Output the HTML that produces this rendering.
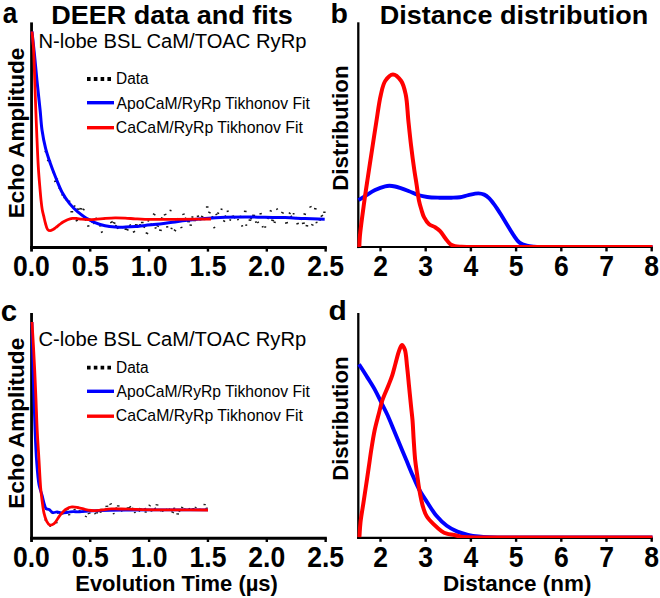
<!DOCTYPE html>
<html><head><meta charset="utf-8"><style>
html,body{margin:0;padding:0;background:#fff;width:660px;height:598px;overflow:hidden}
svg{display:block}
text{font-family:"Liberation Sans",sans-serif;fill:#000}
.pl{font-weight:bold;font-size:30px}
.ti{font-weight:bold;font-size:26.7px}
.st{font-size:20px}
.lg{font-size:15.5px}
.yl{font-weight:bold;font-size:22.3px}
.yl2{font-weight:bold;font-size:22px}
.xl{font-weight:bold;font-size:21.8px}
.xl2{font-weight:bold;font-size:22.3px}
.tk{font-weight:bold;font-size:29px}
</style></head><body>
<svg width="660" height="598" viewBox="0 0 660 598">
<rect width="660" height="598" fill="#fff"/>
<defs><clipPath id="cb"><rect x="355" y="0" width="305" height="247.1"/></clipPath><clipPath id="cd"><rect x="355" y="290" width="305" height="248.0"/></clipPath></defs>
<text font-size="29.50" font-weight="bold" textLength="14.60" lengthAdjust="spacingAndGlyphs" x="2.65" y="23.10">a</text>
<text font-size="28.50" font-weight="bold" x="330.45" y="22.60">b</text>
<text font-size="29.50" font-weight="bold" x="0.80" y="320.80">c</text>
<text font-size="28.50" font-weight="bold" textLength="18.30" lengthAdjust="spacingAndGlyphs" x="328.60" y="320.10">d</text>
<text font-size="26.70" font-weight="bold" textLength="241.47" lengthAdjust="spacingAndGlyphs" x="51.30" y="23.70">DEER data and fits</text>
<text font-size="26.70" font-weight="bold" textLength="268.49" lengthAdjust="spacingAndGlyphs" x="379.87" y="23.80">Distance distribution</text>
<text font-size="20.00" textLength="268.08" lengthAdjust="spacingAndGlyphs" x="38.40" y="47.90">N-lobe BSL CaM/TOAC RyRp</text>
<text font-size="20.00" textLength="267.66" lengthAdjust="spacingAndGlyphs" x="38.55" y="345.50">C-lobe BSL CaM/TOAC RyRp</text>
<text font-size="15.60" textLength="32.63" lengthAdjust="spacingAndGlyphs" x="116.04" y="83.70">Data</text>
<text font-size="15.70" textLength="193.32" lengthAdjust="spacingAndGlyphs" x="116.51" y="108.50">ApoCaM/RyRp Tikhonov Fit</text>
<text font-size="15.70" textLength="187.16" lengthAdjust="spacingAndGlyphs" x="115.72" y="132.50">CaCaM/RyRp Tikhonov Fit</text>
<text font-size="15.60" textLength="32.63" lengthAdjust="spacingAndGlyphs" x="116.04" y="372.50">Data</text>
<text font-size="15.70" textLength="193.32" lengthAdjust="spacingAndGlyphs" x="116.51" y="397.30">ApoCaM/RyRp Tikhonov Fit</text>
<text font-size="15.70" textLength="187.16" lengthAdjust="spacingAndGlyphs" x="115.72" y="421.30">CaCaM/RyRp Tikhonov Fit</text>
<text font-size="22.20" font-weight="bold" textLength="170.50" lengthAdjust="spacingAndGlyphs" transform="translate(24.00 218.16) rotate(-90)">Echo Amplitude</text>
<text font-size="22.20" font-weight="bold" textLength="170.87" lengthAdjust="spacingAndGlyphs" transform="translate(24.00 508.67) rotate(-90)">Echo Amplitude</text>
<text font-size="21.90" font-weight="bold" textLength="125.44" lengthAdjust="spacingAndGlyphs" transform="translate(348.30 190.84) rotate(-90)">Distribution</text>
<text font-size="21.90" font-weight="bold" textLength="124.41" lengthAdjust="spacingAndGlyphs" transform="translate(348.30 480.82) rotate(-90)">Distribution</text>
<text font-size="21.80" font-weight="bold" textLength="202.67" lengthAdjust="spacingAndGlyphs" x="75.25" y="591.45">Evolution Time (µs)</text>
<text font-size="22.10" font-weight="bold" textLength="148.49" lengthAdjust="spacingAndGlyphs" x="442.91" y="591.05">Distance (nm)</text>
<!-- legends -->
<g>
<line x1="87" y1="79" x2="111.5" y2="79" stroke="#000" stroke-width="3.8" stroke-dasharray="3.6 3.2"/>
<line x1="87" y1="102.7" x2="114" y2="102.7" stroke="#00f" stroke-width="3.4"/>
<line x1="87" y1="127.7" x2="114" y2="127.7" stroke="#f00" stroke-width="3.4"/>
</g>
<g>
<line x1="87" y1="367.6" x2="111.5" y2="367.6" stroke="#000" stroke-width="3.8" stroke-dasharray="3.6 3.2"/>
<line x1="87" y1="391.3" x2="114" y2="391.3" stroke="#00f" stroke-width="3.4"/>
<line x1="87" y1="416.2" x2="114" y2="416.2" stroke="#f00" stroke-width="3.4"/>
</g>
<!-- panel a -->
<line x1="31.55" y1="22.4" x2="31.55" y2="251.6" stroke="#000" stroke-width="2.8"/>
<line x1="30.1" y1="247.5" x2="326.8" y2="247.5" stroke="#000" stroke-width="3"/>
<line x1="90.25" y1="247.00" x2="90.25" y2="251.60" stroke="#000" stroke-width="2.4"/><line x1="149.10" y1="247.00" x2="149.10" y2="251.60" stroke="#000" stroke-width="2.4"/><line x1="207.95" y1="247.00" x2="207.95" y2="251.60" stroke="#000" stroke-width="2.4"/><line x1="266.80" y1="247.00" x2="266.80" y2="251.60" stroke="#000" stroke-width="2.4"/><line x1="325.65" y1="247.00" x2="325.65" y2="251.60" stroke="#000" stroke-width="2.4"/>
<text transform="translate(31.40 276.20) scale(0.915 1)" class="tk" text-anchor="middle">0.0</text><text transform="translate(90.25 276.20) scale(0.915 1)" class="tk" text-anchor="middle">0.5</text><text transform="translate(149.10 276.20) scale(0.915 1)" class="tk" text-anchor="middle">1.0</text><text transform="translate(207.95 276.20) scale(0.915 1)" class="tk" text-anchor="middle">1.5</text><text transform="translate(266.80 276.20) scale(0.915 1)" class="tk" text-anchor="middle">2.0</text><text transform="translate(325.65 276.20) scale(0.915 1)" class="tk" text-anchor="middle">2.5</text>
<path d="M44.7 152.0 L46.8 150.8 M47.1 160.8 L49.2 159.6 M48.9 161.7 L51.0 160.6 M52.6 172.8 L54.5 171.9 M54.1 181.4 L57.0 181.0 M56.0 178.6 L57.9 179.5 M58.5 187.9 L60.4 188.7 M61.4 194.7 L63.6 195.1 M63.5 197.9 L66.0 197.0 M65.7 200.3 L68.1 199.7 M68.3 201.0 L70.3 201.5 M70.4 211.7 L73.2 211.8 M73.4 206.6 L75.4 205.6 M75.7 221.0 L77.9 220.0 M76.5 208.9 L79.4 209.2 M79.5 208.5 L82.0 209.0 M82.5 208.8 L84.5 210.0 M84.8 220.4 L87.1 219.1 M87.2 226.3 L89.4 225.7 M89.7 220.8 L91.6 219.5 M91.3 221.9 L93.1 222.5 M93.2 223.5 L96.1 223.1 M95.5 218.0 L98.0 219.2 M99.2 226.1 L101.4 225.5 M100.9 232.5 L102.8 231.6 M102.8 219.3 L105.1 218.5 M105.8 226.1 L108.0 225.9 M108.1 226.0 L110.3 227.4 M110.2 222.9 L112.7 221.5 M113.0 222.3 L115.4 223.5 M115.0 225.4 L116.8 225.7 M116.8 228.6 L118.7 227.9 M119.6 227.6 L121.4 226.8 M121.7 227.9 L124.1 226.4 M124.5 229.2 L126.7 228.8 M125.8 229.0 L128.5 230.2 M129.1 225.6 L131.0 224.6 M131.1 226.6 L133.0 227.3 M132.9 232.2 L135.1 231.2 M134.9 224.8 L137.8 224.9 M139.0 225.0 L141.0 224.7 M140.9 222.5 L143.6 222.6 M142.7 226.1 L145.0 227.7 M145.7 232.7 L148.2 233.7 M147.6 221.4 L149.1 220.4 M149.5 224.8 L152.0 224.0 M153.0 213.6 L155.4 215.2 M154.6 228.3 L156.6 227.6 M156.4 225.4 L158.9 226.7 M159.1 229.9 L161.8 230.4 M160.9 217.8 L163.4 218.7 M163.8 215.1 L166.4 214.1 M166.1 227.1 L168.3 226.8 M169.6 210.2 L171.5 210.7 M170.6 228.1 L172.5 228.8 M173.9 229.7 L176.1 231.1 M175.3 220.1 L177.8 218.5 M177.9 220.6 L180.9 220.7 M180.4 227.9 L182.4 227.1 M182.3 214.6 L184.7 213.9 M184.8 217.8 L186.8 218.8 M187.0 221.4 L189.9 221.7 M189.5 225.1 L191.9 225.2 M191.4 217.0 L193.4 216.9 M193.4 220.6 L196.1 220.5 M196.8 216.6 L199.1 216.1 M199.2 219.5 L201.3 219.7 M201.0 216.1 L203.3 216.9 M203.7 219.4 L206.2 219.2 M205.9 206.9 L208.5 206.9 M208.3 211.8 L210.6 213.1 M211.6 216.3 L213.4 217.4 M213.4 228.0 L215.2 227.1 M215.5 214.8 L217.4 213.8 M217.3 212.7 L219.1 213.6 M220.6 209.0 L222.5 209.4 M223.2 220.5 L225.1 221.7 M224.7 215.7 L227.0 217.3 M226.7 211.4 L228.7 211.0 M229.4 219.7 L231.1 220.2 M231.7 216.4 L234.2 215.9 M234.0 218.2 L236.5 216.7 M237.1 219.9 L238.9 219.4 M239.4 216.8 L241.3 216.3 M241.2 226.2 L243.1 225.6 M243.9 211.2 L246.6 211.4 M245.3 225.2 L247.2 225.0 M248.6 219.9 L251.3 220.3 M249.9 217.9 L252.0 218.8 M252.2 215.3 L255.1 215.5 M255.0 222.4 L256.8 221.8 M257.2 222.9 L258.9 221.9 M259.5 214.1 L261.8 213.5 M261.8 226.9 L263.6 226.6 M264.2 226.9 L266.2 227.1 M267.1 217.8 L268.7 218.8 M269.7 210.5 L271.8 211.4 M271.2 220.0 L274.1 220.7 M273.6 222.0 L275.8 222.4 M276.2 209.6 L277.9 208.6 M278.1 217.6 L279.8 216.9 M281.3 212.2 L283.7 213.4 M282.9 217.9 L284.9 217.8 M285.1 223.3 L288.0 222.5 M288.8 212.7 L290.6 213.9 M290.1 217.2 L292.0 215.9 M292.7 213.8 L294.5 213.8 M294.6 218.6 L296.6 217.5 M296.4 224.0 L298.8 223.2 M299.4 218.8 L301.9 219.5 M301.9 223.5 L304.8 222.9 M303.5 213.8 L306.0 214.5 M305.6 225.5 L308.2 225.9 M309.4 207.4 L311.6 206.4 M311.2 224.4 L313.5 225.4 M314.0 208.4 L316.6 208.9 M315.6 222.7 L317.5 222.3 M318.6 219.7 L321.1 219.9 M320.7 216.7 L323.0 215.1 M323.2 212.2 L325.6 212.2 " stroke="#1a1a1a" stroke-width="1.5" fill="none"/>
<path d="M32.00 31.50 C32.83 39.33 33.69 47.04 34.50 55.00 C35.33 63.20 36.02 71.29 36.90 80.00 C37.87 89.55 39.19 101.01 40.10 110.00 C40.84 117.34 41.06 123.49 42.00 130.00 C42.91 136.28 44.14 142.65 45.60 148.40 C46.92 153.61 48.51 158.23 50.20 163.10 C51.91 168.03 53.81 172.92 55.80 177.80 C57.81 182.72 59.77 188.04 62.20 192.50 C64.42 196.57 66.90 200.28 69.60 203.60 C72.13 206.70 75.04 209.51 77.80 211.90 C80.25 214.03 82.96 215.94 85.20 217.40 C86.93 218.53 88.37 219.24 90.00 220.10 C91.64 220.97 93.01 221.79 95.00 222.60 C97.75 223.71 101.71 225.05 105.10 225.80 C108.41 226.53 111.76 226.88 115.10 227.10 C118.43 227.32 121.76 227.18 125.10 227.10 C128.46 227.02 131.86 226.89 135.20 226.60 C138.50 226.32 141.38 225.79 145.00 225.40 C149.47 224.92 155.00 224.58 160.00 224.00 C165.03 223.42 170.07 222.55 175.10 221.90 C180.11 221.25 185.11 220.65 190.10 220.10 C195.07 219.55 199.66 219.04 205.00 218.60 C211.20 218.09 218.41 217.58 225.10 217.30 C231.75 217.02 238.36 216.90 245.00 216.90 C251.66 216.90 258.32 217.18 265.00 217.30 C271.69 217.42 278.41 217.38 285.10 217.60 C291.78 217.82 298.47 218.32 305.10 218.60 C311.67 218.88 318.17 219.07 324.70 219.30" stroke="#00f" stroke-width="3" fill="none" stroke-linejoin="round"/>
<path d="M32.00 31.50 C32.53 37.67 33.17 43.09 33.60 50.00 C34.14 58.79 34.33 70.00 34.70 80.00 C35.07 90.00 35.46 101.01 35.80 110.00 C36.08 117.34 36.27 122.33 36.60 130.00 C37.05 140.41 37.63 155.95 38.30 166.80 C38.83 175.43 39.59 183.89 40.10 190.00 C40.44 193.99 40.64 196.59 41.00 199.90 C41.37 203.25 41.76 207.03 42.30 210.00 C42.73 212.39 43.28 214.21 43.80 216.40 C44.35 218.71 44.85 221.27 45.50 223.50 C46.10 225.55 46.47 228.11 47.50 229.30 C48.22 230.14 49.28 230.67 50.20 230.70 C51.12 230.73 52.09 230.01 53.00 229.50 C53.96 228.96 54.81 228.24 55.80 227.50 C56.96 226.63 58.27 225.53 59.50 224.60 C60.70 223.70 61.81 222.80 63.10 222.00 C64.46 221.16 65.97 220.30 67.50 219.70 C69.03 219.10 70.74 218.59 72.30 218.40 C73.73 218.23 75.04 218.38 76.50 218.50 C78.10 218.63 79.72 219.02 81.50 219.20 C83.52 219.40 85.79 219.56 88.00 219.60 C90.29 219.64 92.46 219.56 95.00 219.40 C98.06 219.20 101.74 218.67 105.10 218.40 C108.44 218.13 111.77 217.85 115.10 217.80 C118.43 217.75 121.76 217.93 125.10 218.10 C128.46 218.27 131.86 218.60 135.20 218.80 C138.49 219.00 140.84 219.19 145.00 219.30 C152.27 219.49 164.54 219.34 175.00 219.30 C186.45 219.25 199.00 219.10 211.00 219.00" stroke="#f00" stroke-width="2.8" fill="none" stroke-linejoin="round"/>
<!-- panel c -->
<line x1="31.55" y1="313" x2="31.55" y2="542" stroke="#000" stroke-width="2.8"/>
<line x1="30.1" y1="538.2" x2="326.8" y2="538.2" stroke="#000" stroke-width="3"/>
<line x1="90.25" y1="537.70" x2="90.25" y2="542.00" stroke="#000" stroke-width="2.4"/><line x1="149.10" y1="537.70" x2="149.10" y2="542.00" stroke="#000" stroke-width="2.4"/><line x1="207.95" y1="537.70" x2="207.95" y2="542.00" stroke="#000" stroke-width="2.4"/><line x1="266.80" y1="537.70" x2="266.80" y2="542.00" stroke="#000" stroke-width="2.4"/><line x1="325.65" y1="537.70" x2="325.65" y2="542.00" stroke="#000" stroke-width="2.4"/>
<text transform="translate(31.40 567.00) scale(0.915 1)" class="tk" text-anchor="middle">0.0</text><text transform="translate(90.25 567.00) scale(0.915 1)" class="tk" text-anchor="middle">0.5</text><text transform="translate(149.10 567.00) scale(0.915 1)" class="tk" text-anchor="middle">1.0</text><text transform="translate(207.95 567.00) scale(0.915 1)" class="tk" text-anchor="middle">1.5</text><text transform="translate(266.80 567.00) scale(0.915 1)" class="tk" text-anchor="middle">2.0</text><text transform="translate(325.65 567.00) scale(0.915 1)" class="tk" text-anchor="middle">2.5</text>
<path d="M44.4 520.2 L46.2 519.7 M49.2 525.8 L51.1 526.3 M55.2 522.8 L57.6 522.5 M60.6 512.6 L63.1 513.4 M66.0 510.1 L68.6 509.3 M71.4 507.4 L73.2 507.5 M76.1 506.9 L78.7 507.5 M82.1 511.8 L84.5 511.9 M87.7 513.8 L90.5 512.8 M94.4 514.1 L96.3 512.8 M99.7 512.5 L101.7 511.9 M105.2 509.4 L107.6 508.6 M109.4 504.7 L111.9 503.5 M115.6 507.7 L117.9 508.8 M121.1 511.4 L122.6 510.5 M126.7 507.9 L128.8 507.8 M131.9 508.0 L133.5 508.7 M138.3 510.5 L140.1 511.3 M143.9 508.9 L146.1 508.3 M148.6 504.8 L150.7 506.2 M154.3 508.9 L155.9 507.9 M160.0 510.9 L162.8 510.2 M164.9 510.0 L167.0 509.2 M171.4 511.6 L173.9 512.9 M176.3 513.9 L179.0 514.0 M181.1 507.1 L183.3 507.8 M187.6 509.7 L190.1 508.2 M192.3 508.7 L194.5 508.6 M197.9 510.0 L200.4 509.2 M203.5 504.5 L205.8 504.6 M45.4 508.9 L47.5 510.0 M50.7 512.3 L53.4 513.7 M57.0 513.5 L58.9 512.4 M61.9 514.1 L63.9 513.4 M68.0 514.8 L70.3 514.6 M73.5 509.7 L75.7 509.4 M78.3 511.4 L80.5 510.4 M84.9 516.0 L86.8 516.9 M89.3 511.2 L92.2 511.0 M96.4 512.3 L98.0 513.1 M100.2 509.4 L102.7 509.4 M105.4 506.5 L108.3 506.1 M112.8 513.9 L114.6 513.3 M116.9 505.9 L119.5 506.0 M123.8 509.2 L126.1 509.9 M128.7 507.9 L131.0 506.4 M133.9 512.7 L135.8 512.3 M139.1 508.3 L141.7 508.8 M144.6 512.0 L146.8 512.2 M150.5 510.8 L152.3 511.0 M155.6 504.7 L158.4 505.2 M161.8 511.4 L163.8 510.7 M168.1 510.0 L170.1 508.7 M173.1 508.3 L175.2 508.1 M178.7 511.7 L180.6 510.5 M183.8 508.9 L185.8 509.4 M189.5 510.2 L192.3 509.1 M194.7 507.0 L196.6 507.8 M200.0 509.3 L202.1 510.5 M205.4 508.5 L207.6 507.8 " stroke="#222" stroke-width="1.3" fill="none"/>
<path d="M32.00 322.00 C32.17 329.67 32.34 337.17 32.50 345.00 C32.67 353.16 32.77 361.29 33.00 370.00 C33.25 379.55 33.67 390.00 34.00 400.00 C34.33 410.00 34.58 420.00 35.00 430.00 C35.42 440.00 35.79 450.46 36.50 460.00 C37.15 468.72 37.73 478.59 39.00 485.00 C39.82 489.13 41.06 491.66 42.00 495.00 C42.93 498.32 43.77 502.52 44.60 505.00 C45.11 506.52 45.28 507.84 46.10 508.60 C46.84 509.29 48.07 509.06 49.10 509.60 C50.39 510.28 51.69 512.26 53.10 512.60 C54.37 512.90 55.77 511.85 57.10 511.90 C58.44 511.95 59.57 512.78 61.10 512.90 C63.10 513.06 65.97 512.54 68.10 512.30 C69.91 512.10 71.42 511.67 73.10 511.60 C74.79 511.53 76.43 511.94 78.20 511.90 C80.12 511.86 82.43 511.41 84.20 511.30 C85.61 511.21 86.38 511.27 88.00 511.20 C90.88 511.08 95.10 510.68 100.00 510.50 C107.75 510.21 119.28 510.12 130.00 510.00 C142.38 509.87 156.84 509.83 170.00 509.80 C182.83 509.77 195.33 509.80 208.00 509.80" stroke="#00f" stroke-width="2.8" fill="none" stroke-linejoin="round"/>
<path d="M32.00 322.00 C32.47 329.67 32.96 337.17 33.40 345.00 C33.86 353.16 34.28 361.29 34.70 370.00 C35.15 379.54 35.58 390.00 36.00 400.00 C36.42 410.00 36.70 420.00 37.20 430.00 C37.70 440.00 38.42 450.26 39.00 460.00 C39.55 469.24 39.99 479.63 40.60 487.00 C41.03 492.12 41.44 495.66 42.00 500.00 C42.57 504.36 43.10 509.30 44.00 513.10 C44.72 516.13 45.48 519.00 46.60 521.10 C47.45 522.69 48.34 524.49 49.60 524.90 C50.84 525.30 52.66 524.62 54.10 523.60 C56.24 522.08 57.99 517.61 60.10 515.10 C62.01 512.83 63.94 510.48 66.10 509.10 C67.98 507.90 70.06 507.14 72.10 506.90 C74.10 506.66 76.19 507.23 78.20 507.60 C80.22 507.97 82.43 508.65 84.20 509.10 C85.61 509.46 86.50 509.86 88.00 510.10 C90.09 510.44 92.61 510.66 95.60 510.60 C99.94 510.51 106.19 509.13 111.50 508.90 C116.79 508.67 121.37 509.08 127.40 509.20 C135.34 509.36 144.31 509.66 155.00 509.80 C169.81 509.99 190.33 509.93 208.00 510.00" stroke="#f00" stroke-width="2.8" fill="none" stroke-linejoin="round"/>
<!-- panel b -->
<line x1="358.3" y1="22.3" x2="358.3" y2="248.1" stroke="#000" stroke-width="2.3"/>
<line x1="357.2" y1="247.0" x2="652.6" y2="247.0" stroke="#000" stroke-width="2.2"/>
<line x1="380.50" y1="247.00" x2="380.50" y2="251.40" stroke="#000" stroke-width="2.4"/><line x1="425.70" y1="247.00" x2="425.70" y2="251.40" stroke="#000" stroke-width="2.4"/><line x1="470.90" y1="247.00" x2="470.90" y2="251.40" stroke="#000" stroke-width="2.4"/><line x1="516.10" y1="247.00" x2="516.10" y2="251.40" stroke="#000" stroke-width="2.4"/><line x1="561.30" y1="247.00" x2="561.30" y2="251.40" stroke="#000" stroke-width="2.4"/><line x1="606.50" y1="247.00" x2="606.50" y2="251.40" stroke="#000" stroke-width="2.4"/><line x1="651.70" y1="247.00" x2="651.70" y2="251.40" stroke="#000" stroke-width="2.4"/>
<path clip-path="url(#cb)" d="M358.50 200.10 C360.67 198.77 362.59 197.57 365.00 196.10 C367.99 194.27 371.66 191.66 375.10 190.00 C378.37 188.43 382.41 186.94 385.10 186.30 C386.83 185.89 387.95 185.79 389.50 185.80 C391.25 185.81 393.31 186.13 395.10 186.50 C396.80 186.85 398.13 187.29 400.00 187.90 C402.58 188.74 406.08 190.02 409.10 191.20 C412.15 192.39 415.12 194.03 418.20 195.00 C421.19 195.94 424.03 196.55 427.30 197.00 C431.03 197.51 435.36 197.58 439.40 197.70 C443.43 197.82 447.82 197.81 451.50 197.70 C454.58 197.61 457.19 197.63 460.00 197.20 C462.83 196.77 465.47 195.72 468.40 195.10 C471.58 194.43 475.52 193.35 478.40 193.40 C480.60 193.44 482.41 193.80 484.20 194.60 C486.05 195.43 487.77 196.94 489.30 198.40 C490.84 199.87 492.05 201.64 493.40 203.40 C494.82 205.26 496.23 207.25 497.60 209.30 C499.03 211.44 500.37 213.68 501.80 216.00 C503.33 218.49 504.78 220.99 506.50 223.80 C508.53 227.11 510.91 231.33 513.20 234.60 C515.25 237.53 517.05 240.73 519.50 242.60 C521.66 244.25 524.33 245.02 526.80 245.70 C529.17 246.35 531.34 246.49 534.00 246.70 C537.27 246.96 540.30 246.86 545.00 246.90 C553.38 246.98 566.23 246.90 580.00 246.90 C599.81 246.90 628.33 246.90 652.50 246.90" stroke="#00f" stroke-width="3.9" fill="none" stroke-linejoin="round"/>
<path clip-path="url(#cb)" d="M359.30 247.00 C359.50 243.33 359.49 240.59 359.90 236.00 C360.60 228.28 362.43 215.06 363.80 205.00 C365.10 195.42 366.52 186.25 367.90 177.00 C369.25 167.92 370.61 159.08 372.00 150.00 C373.41 140.75 374.82 131.24 376.30 122.00 C377.75 112.91 379.01 102.48 380.80 95.00 C382.11 89.52 382.85 84.56 385.20 81.00 C387.16 78.04 390.26 74.45 392.90 74.40 C395.59 74.35 399.11 77.99 401.20 81.00 C403.67 84.54 404.65 89.59 405.80 95.00 C407.30 102.06 407.43 111.67 408.30 120.00 C409.17 128.34 410.00 136.67 411.00 145.00 C412.00 153.34 413.24 162.70 414.30 170.00 C415.13 175.70 415.93 180.14 416.70 185.20 C417.46 190.24 417.98 195.85 418.90 200.30 C419.64 203.91 420.58 207.03 421.50 210.00 C422.29 212.57 422.81 214.82 424.00 217.10 C425.28 219.56 427.09 222.49 429.10 224.20 C430.86 225.70 433.25 226.02 435.10 227.20 C436.91 228.36 438.50 229.54 440.10 231.20 C442.00 233.17 443.69 236.24 445.50 238.50 C447.16 240.58 448.72 243.00 450.50 244.30 C451.93 245.34 453.33 245.78 455.00 246.20 C456.91 246.68 458.36 246.65 461.40 246.80 C468.84 247.16 484.81 246.88 500.00 246.90 C521.86 246.93 553.99 246.90 580.00 246.90 C604.76 246.90 628.33 246.90 652.50 246.90" stroke="#f00" stroke-width="4" fill="none" stroke-linejoin="round"/>
<text transform="translate(380.50 276.20) scale(0.915 1)" class="tk" text-anchor="middle">2</text><text transform="translate(425.70 276.20) scale(0.915 1)" class="tk" text-anchor="middle">3</text><text transform="translate(470.90 276.20) scale(0.915 1)" class="tk" text-anchor="middle">4</text><text transform="translate(516.10 276.20) scale(0.915 1)" class="tk" text-anchor="middle">5</text><text transform="translate(561.30 276.20) scale(0.915 1)" class="tk" text-anchor="middle">6</text><text transform="translate(606.50 276.20) scale(0.915 1)" class="tk" text-anchor="middle">7</text><text transform="translate(651.70 276.20) scale(0.915 1)" class="tk" text-anchor="middle">8</text>
<!-- panel d -->
<line x1="358.3" y1="313" x2="358.3" y2="538.9" stroke="#000" stroke-width="2.3"/>
<line x1="357.2" y1="537.8" x2="652.6" y2="537.8" stroke="#000" stroke-width="2.2"/>
<line x1="380.50" y1="537.50" x2="380.50" y2="541.80" stroke="#000" stroke-width="2.4"/><line x1="425.70" y1="537.50" x2="425.70" y2="541.80" stroke="#000" stroke-width="2.4"/><line x1="470.90" y1="537.50" x2="470.90" y2="541.80" stroke="#000" stroke-width="2.4"/><line x1="516.10" y1="537.50" x2="516.10" y2="541.80" stroke="#000" stroke-width="2.4"/><line x1="561.30" y1="537.50" x2="561.30" y2="541.80" stroke="#000" stroke-width="2.4"/><line x1="606.50" y1="537.50" x2="606.50" y2="541.80" stroke="#000" stroke-width="2.4"/><line x1="651.70" y1="537.50" x2="651.70" y2="541.80" stroke="#000" stroke-width="2.4"/>
<path clip-path="url(#cd)" d="M359.00 364.20 C361.83 368.67 364.77 373.20 367.50 377.60 C370.12 381.83 372.78 385.88 375.10 390.10 C377.37 394.22 379.22 398.43 381.30 402.60 C383.39 406.79 385.57 410.78 387.60 415.20 C389.78 419.95 391.82 425.19 393.90 430.20 C395.99 435.22 398.01 440.28 400.10 445.30 C402.18 450.31 404.30 455.29 406.40 460.30 C408.50 465.32 410.56 470.50 412.70 475.40 C414.76 480.12 416.56 484.68 419.00 489.20 C421.53 493.89 424.78 498.54 427.70 503.00 C430.51 507.29 432.99 511.68 436.20 515.50 C439.37 519.27 443.07 523.05 446.80 525.80 C450.17 528.29 453.79 530.09 457.40 531.60 C460.86 533.05 464.44 533.98 468.00 534.80 C471.51 535.61 474.99 536.10 478.60 536.50 C482.32 536.91 485.30 537.03 490.00 537.20 C497.62 537.47 507.60 537.44 520.00 537.50 C540.26 537.60 576.13 537.50 600.00 537.50 C619.34 537.50 635.00 537.50 652.50 537.50" stroke="#00f" stroke-width="3.9" fill="none" stroke-linejoin="round"/>
<path clip-path="url(#cd)" d="M359.40 537.20 C359.77 532.20 359.91 527.45 360.50 522.20 C361.16 516.34 362.37 509.86 363.30 503.70 C364.23 497.56 365.18 491.43 366.10 485.30 C367.02 479.17 367.91 472.99 368.80 466.90 C369.68 460.89 370.44 455.01 371.40 449.00 C372.37 442.88 373.35 436.42 374.60 430.50 C375.77 424.95 377.26 419.68 378.60 414.50 C379.86 409.59 380.81 404.95 382.40 400.20 C384.05 395.28 386.63 390.02 388.40 385.50 C389.90 381.66 391.21 378.50 392.40 374.80 C393.65 370.92 394.58 366.72 395.70 362.70 C396.82 358.69 397.86 353.92 399.10 350.70 C399.98 348.40 400.90 345.06 401.90 345.00 C402.81 344.95 404.03 347.40 404.80 349.50 C406.19 353.28 406.40 360.74 407.10 366.70 C407.85 373.13 408.43 380.11 409.10 386.80 C409.77 393.48 410.48 400.82 411.10 406.80 C411.60 411.66 412.10 415.14 412.50 420.00 C413.00 425.97 413.25 433.31 413.70 440.00 C414.15 446.74 414.55 454.09 415.20 460.30 C415.76 465.60 416.55 470.26 417.20 475.00 C417.81 479.44 418.30 483.68 419.00 487.90 C419.68 492.01 420.49 496.37 421.30 500.00 C421.97 503.01 422.51 505.51 423.40 508.20 C424.30 510.92 425.10 513.62 426.70 516.20 C428.52 519.15 431.54 522.15 434.10 524.70 C436.49 527.08 439.14 529.54 441.50 531.10 C443.33 532.31 444.84 533.06 446.80 533.70 C449.02 534.42 451.83 534.50 454.20 535.00 C456.42 535.47 458.37 536.23 460.60 536.60 C462.96 536.99 464.41 537.04 468.00 537.20 C477.49 537.61 500.81 537.44 520.00 537.50 C543.81 537.57 576.13 537.50 600.00 537.50 C619.34 537.50 635.00 537.50 652.50 537.50" stroke="#f00" stroke-width="4" fill="none" stroke-linejoin="round"/>
<text transform="translate(380.50 567.00) scale(0.915 1)" class="tk" text-anchor="middle">2</text><text transform="translate(425.70 567.00) scale(0.915 1)" class="tk" text-anchor="middle">3</text><text transform="translate(470.90 567.00) scale(0.915 1)" class="tk" text-anchor="middle">4</text><text transform="translate(516.10 567.00) scale(0.915 1)" class="tk" text-anchor="middle">5</text><text transform="translate(561.30 567.00) scale(0.915 1)" class="tk" text-anchor="middle">6</text><text transform="translate(606.50 567.00) scale(0.915 1)" class="tk" text-anchor="middle">7</text><text transform="translate(651.70 567.00) scale(0.915 1)" class="tk" text-anchor="middle">8</text>
</svg>
</body></html>
